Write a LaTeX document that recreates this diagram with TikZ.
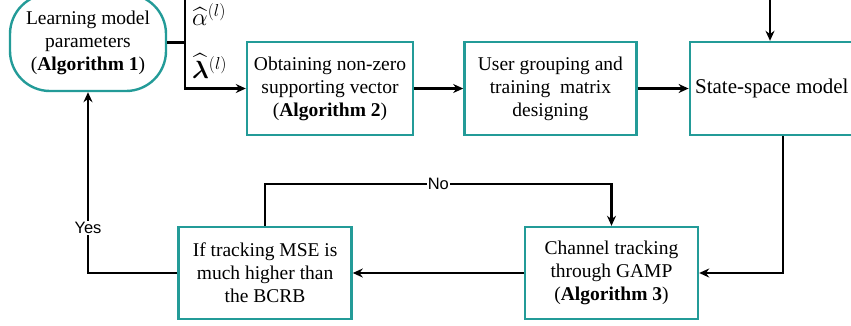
\documentclass[tikz,border=0pt]{standalone}
\usepackage{fontspec}
\setmainfont{Liberation Serif}
\newfontfamily\lblfont{Liberation Sans}
\usepackage{amsmath,bm}
\usetikzlibrary{arrows.meta,positioning,calc}
\definecolor{tealbox}{RGB}{35,155,152}

\begin{document}
\begin{tikzpicture}[x=1pt,y=-1pt,
  every node/.style={align=center,font=\fontsize{19.5}{23}\selectfont},%
  d/.style={draw=tealbox,line width=2.4pt,inner sep=2pt,minimum height=93pt},%
  rd/.style={d,rounded corners=40pt,minimum height=97pt},%
  e/.style={-{Stealth[length=10pt,width=9pt]},line width=2.1pt},%
  t/.style={fill=white,inner sep=1pt,font=\lblfont\fontsize{16.5}{18}\selectfont},%
  ]
  \useasboundingbox (0,0) rectangle (851,325);

  \node (learn) [rd,minimum width=156pt] at (88,42.5)
  {Learning model\\parameters\\(\textbf{Algorithm 1})};

  \node (obtain) [d,minimum width=166pt] at (330,88.5)
  {Obtaining non-zero\\supporting vector\\(\textbf{Algorithm 2})};

  \node (group) [d,minimum width=172pt,
  right = 49pt of obtain,
  ] {User grouping and\\training~ matrix\\designing};

  \node (state) [d,minimum width=164pt,
  right = 51pt of group,font=\fontsize{21}{24}\selectfont,
  ] {State-space model};

  \node (track) [d,minimum width=173pt,minimum height=92pt] at (611.5,273)
  {Channel tracking\\through GAMP\\(\textbf{Algorithm 3})};

  \node (check) [d,minimum width=173pt,minimum height=92pt,
  left = 171pt of track,
  ] {If tracking MSE is\\much higher than\\the BCRB};

  % branch after the learning step
  \coordinate (split) at (185,42.5);
  \coordinate (splittop) at (185,0);
  \coordinate (statetop) at (770,0);

  \draw [line width=2.1pt] (learn.east) -- (split);
  \draw [e] (splittop) |- (obtain.west);
  \node (alpha) [font=\fontsize{24}{26}\selectfont,anchor=west,inner sep=0pt]
  at (192,15) {$\widehat{\alpha}^{(l)}$};
  \node (lambda) [font=\fontsize{24}{26}\selectfont,anchor=west,inner sep=0pt]
  at (192,66) {$\widehat{\bm{\lambda}}^{(l)}$};

  \draw [e] (obtain) -- (group);
  \draw [e] (group) -- (state);
  \draw [e] (statetop) -- (statetop |- state.north);
  \draw [e] ([xshift=11pt]state.south) |- (track.east);
  \draw [e] (track) -- (check);
  \draw [e] (check.north) -- ++(0,-42) -| (track.north)
  node [t,pos=0.25] {No};
  \draw [e] (check.west) -| (learn.south)
  node [t,pos=0.625] {Yes};
\end{tikzpicture}
\end{document}
